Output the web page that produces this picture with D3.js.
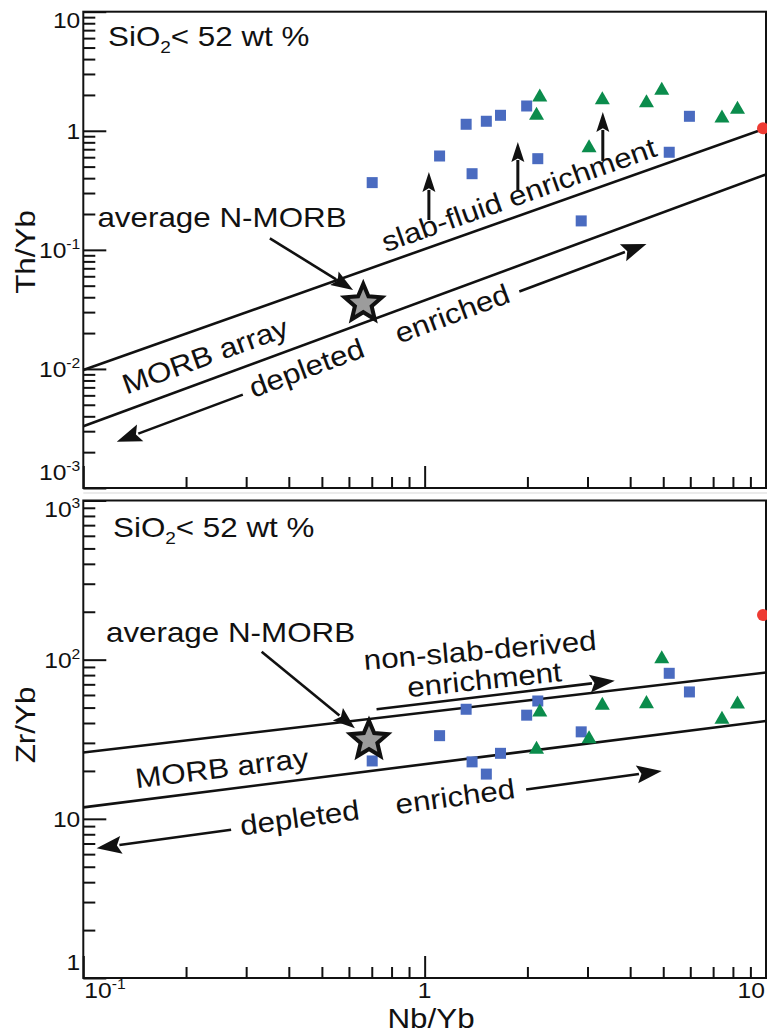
<!DOCTYPE html>
<html>
<head>
<meta charset="utf-8">
<script src="https://cdn.jsdelivr.net/npm/d3@7"></script>
<style>
  body { margin: 0; background: #fff; }
  svg { display: block; }
  text { font-family: "Liberation Sans", Arial, Helvetica, sans-serif; fill: #111; }
</style>
</head>
<body>
<svg id="chart" width="767" height="1033"></svg>
<script>
// ---- data -------------------------------------------------------------
// Axis domains (log scales)
const nbYbDomain = [0.1, 10];
const thYbDomain = [0.001, 10];
const zrYbDomain = [1, 1000];

// Tick labels (decades)
const xTickValues = [0.1, 1, 10];
const thTickValues = [10, 1, 0.1, 0.01, 0.001];
const zrTickValues = [1000, 100, 10, 1];

// Samples plotted as blue squares
const squareNbYb = [0.702, 1.106, 1.377, 1.323, 1.516, 1.668, 1.990, 2.145, 2.875, 5.206, 5.966];
const squareThYb = [0.367, 0.614, 0.436, 1.134, 1.202, 1.349, 1.615, 0.583, 0.175, 0.660, 1.323];
const squareZrYb = [23.1, 33.3, 22.8, 48.8, 19.1, 25.8, 44.8, 55.0, 35.2, 82.1, 62.7];

// Samples plotted as green triangles
const triangleNbYb = [2.174, 2.127, 3.031, 3.315, 4.465, 4.95, 7.43, 8.25];
const triangleThYb = [1.998, 1.403, 0.750, 1.896, 1.789, 2.274, 1.331, 1.575];
const triangleZrYb = [48.3, 28.2, 32.8, 53.2, 54.5, 104.4, 43.5, 54.2];

// Red reference point at the right margin
const oibNbYb = [9.8];
const oibThYb = [1.05];
const oibZrYb = [191];

// Average N-MORB (star)
const nmorbNbYb = [0.661, 0.687];   // [upper panel, lower panel]
const nmorbThYb = [0.0355];
const nmorbZrYb = [31.2];

// MORB array bounding lines: [Nb/Yb, ratio] at both ends
const thMorbUpper = [[0.1, 0.0098], [10, 1.05]];
const thMorbLower = [[0.1, 0.0033], [10, 0.43]];
const zrMorbUpper = [[0.1, 26.1], [10, 83]];
const zrMorbLower = [[0.1, 11.8], [10, 41.2]];

// Annotation anchors in data units
const thPointer = [[0.352, 0.125], [0.617, 0.0461]];
const zrPointer = [[0.333, 112.3], [0.6246, 37.1]];
const thNmorbLabel = [0.110, 0.157];
const zrNmorbLabel = [0.1165, 129.8];
const thArrayLabel = [0.2326, 0.0108];
const zrArrayLabel = [0.2566, 18.15];
const slabLabel = [1.93, 0.2428];
const slabArrowNb = [1.029, 1.875, 3.326];
const slabArrowFrom = [0.178, 0.318, 0.558];
const slabArrowTo = [0.451, 0.805, 1.439];
const nonSlabLabel1 = [1.461, 99.6];
const nonSlabLabel2 = [1.506, 65.2];
const nonSlabArrow = [[0.723, 48.8], [3.606, 73.8]];
const thTrack = [[0.1253, 0.00245], [4.465, 0.112]];
const zrTrack = [[0.1094, 6.54], [4.95, 20.0]];
const trackWords = ["depleted", "enriched"];
const trackWordAt = [0.36, 0.635];
const trackGapAt = [0.238, 0.76];

// ---- layout -----------------------------------------------------------
const W = 767, H = 1033;
const X0 = 83.3, X1 = 766;
const TOP = { top: 11.7, bottom: 488 };
const BOT = { top: 500.5, bottom: 978 };
const TX = 1.12;           // horizontal text proportion
const ANN = 28;            // annotation font size
const TICK = 22;           // tick label font size
const INK = "#111";
const BLUE = "#4a6bc0", GREEN = "#0b8c4c", RED = "#ee3b33";

const svg = d3.select("#chart");
svg.append("rect").attr("width", W).attr("height", H).attr("fill", "#fff");

const x = d3.scaleLog().domain(nbYbDomain).range([X0, X1]);
const yTh = d3.scaleLog().domain(thYbDomain).range([TOP.bottom, TOP.top]);
const yZr = d3.scaleLog().domain(zrYbDomain).range([BOT.bottom, BOT.top]);

// faint separator between the panels
svg.append("line").attr("x1", X0).attr("x2", W).attr("y1", 493).attr("y2", 493)
  .attr("stroke", "#e4e4e4").attr("stroke-width", 1.5);

function minorTicks(domain) {
  const out = [];
  const e0 = Math.floor(Math.log10(domain[0])), e1 = Math.ceil(Math.log10(domain[1]));
  for (let e = e0; e < e1; e++) for (let k = 2; k <= 9; k++) {
    const v = k * Math.pow(10, e);
    if (v > domain[0] && v < domain[1]) out.push(v);
  }
  return out;
}

function addText(g, px, py, str, opts = {}) {
  const t = g.append("text")
    .attr("transform", `translate(${px},${py}) rotate(${opts.rotate || 0}) scale(${TX},1)`)
    .attr("text-anchor", opts.anchor || "start")
    .attr("font-size", opts.size || ANN);
  if (opts.dy) t.attr("dy", opts.dy);
  t.text(str);
  return t;
}

function powerLabel(g, px, py, v, anchor) {
  const e = Math.round(Math.log10(v));
  const t = g.append("text")
    .attr("transform", `translate(${px},${py}) scale(${TX},1)`)
    .attr("text-anchor", anchor).attr("font-size", TICK);
  if (e === 0) t.text("1");
  else if (e === 1) t.text("10");
  else {
    t.append("tspan").text("10");
    t.append("tspan").attr("font-size", 14).attr("dy", -9).text(String(e));
  }
}

function arrow(g, p1, p2, opts = {}) {
  const len = opts.len || 20, hw = opts.hw || 7, sw = opts.sw || 2.6;
  const dx = p2[0] - p1[0], dy = p2[1] - p1[1];
  const L = Math.hypot(dx, dy), ux = dx / L, uy = dy / L;
  const bx = p2[0] - ux * len, by = p2[1] - uy * len;
  g.append("line").attr("x1", p1[0]).attr("y1", p1[1])
    .attr("x2", bx + ux * 2).attr("y2", by + uy * 2)
    .attr("stroke", INK).attr("stroke-width", sw);
  g.append("path")
    .attr("d", `M${p2[0]},${p2[1]}L${bx - uy * hw},${by + ux * hw}L${bx + ux * len * 0.18},${by + uy * len * 0.18}L${bx + uy * hw},${by - ux * hw}Z`)
    .attr("fill", INK);
}

function starPath(R, r) {
  const pts = [];
  for (let i = 0; i < 10; i++) {
    const a = -Math.PI / 2 + i * Math.PI / 5, rad = i % 2 ? r : R;
    pts.push([rad * Math.cos(a), rad * Math.sin(a)]);
  }
  return "M" + pts.map(p => p.join(",")).join("L") + "Z";
}

function trianglePath(w) {
  const h = w * 0.87;
  return `M0,${-h / 2}L${w / 2},${h / 2}L${-w / 2},${h / 2}Z`;
}

const angleOf = (a, b) => Math.atan2(b[1] - a[1], b[0] - a[0]) * 180 / Math.PI;

function drawPanel(y, box, yTicks, showXLabels) {
  const g = svg.append("g");

  // y ticks (inward)
  const yMajor = d3.axisRight(y).tickValues(yTicks).tickSize(23).tickFormat("").tickSizeOuter(0);
  const yMinor = d3.axisRight(y).tickValues(minorTicks(y.domain())).tickSize(12).tickFormat("").tickSizeOuter(0);
  [yMajor, yMinor].forEach(ax => {
    const a = g.append("g").attr("transform", `translate(${X0},0)`).call(ax);
    a.select(".domain").remove();
    a.selectAll("line").attr("stroke", INK).attr("stroke-width", 2);
  });
  // x ticks (inward)
  const xMajor = d3.axisTop(x).tickValues(xTickValues).tickSize(22).tickFormat("").tickSizeOuter(0);
  const xMinor = d3.axisTop(x).tickValues(minorTicks(x.domain())).tickSize(11).tickFormat("").tickSizeOuter(0);
  [xMajor, xMinor].forEach(ax => {
    const a = g.append("g").attr("transform", `translate(0,${box.bottom})`).call(ax);
    a.select(".domain").remove();
    a.selectAll("line").attr("stroke", INK).attr("stroke-width", 2);
  });

  // frame
  g.append("rect").attr("x", X0).attr("y", box.top)
    .attr("width", X1 - X0).attr("height", box.bottom - box.top)
    .attr("fill", "none").attr("stroke", INK).attr("stroke-width", 2);

  // y tick labels, kept inside the frame height at the ends
  yTicks.forEach(v => {
    const cy = Math.max(box.top + 8.5, Math.min(box.bottom - 16, y(v)));
    powerLabel(g, X0 - 3, cy + 8, v, "end");
  });

  if (showXLabels) {
    xTickValues.forEach((v, i) => {
      const anchor = i === 0 ? "start" : (i === xTickValues.length - 1 ? "end" : "middle");
      const px = i === 0 ? X0 + 1 : (i === xTickValues.length - 1 ? X1 - 1 : x(v));
      powerLabel(g, px, box.bottom + 20, v, anchor);
    });
  }
  return g;
}

function line2(g, pts, y) {
  g.append("line")
    .attr("x1", x(pts[0][0])).attr("y1", y(pts[0][1]))
    .attr("x2", x(pts[1][0])).attr("y2", y(pts[1][1]))
    .attr("stroke", INK).attr("stroke-width", 2.6);
}

function panelLabel(g, px, py) {
  const t = g.append("text")
    .attr("transform", `translate(${px},${py}) scale(${TX},1)`)
    .attr("font-size", 28);
  t.append("tspan").text("SiO");
  t.append("tspan").attr("font-size", 17).attr("dy", 7).text("2");
  t.append("tspan").attr("dy", -7).text("< 52 wt %");
}

function track(g, pts, y) {
  const a = [x(pts[0][0]), y(pts[0][1])], b = [x(pts[1][0]), y(pts[1][1])];
  const at = t => [a[0] + (b[0] - a[0]) * t, a[1] + (b[1] - a[1]) * t];
  const ang = angleOf(a, b);
  arrow(g, at(trackGapAt[0]), a, { len: 25, hw: 9 });
  arrow(g, at(trackGapAt[1]), b, { len: 25, hw: 9 });
  trackWords.forEach((w, i) => {
    const p = at(trackWordAt[i]);
    addText(g, p[0], p[1], w, { anchor: "middle", rotate: ang, dy: "0.25em" });
  });
}

function points(g, y, sqY, trY, redY) {
  g.selectAll(null).data(squareNbYb).enter().append("rect")
    .attr("x", (d) => x(d) - 5.5).attr("y", (d, i) => y(sqY[i]) - 5.5)
    .attr("width", 11).attr("height", 11).attr("fill", BLUE);
  g.selectAll(null).data(triangleNbYb).enter().append("path")
    .attr("transform", (d, i) => `translate(${x(d)},${y(trY[i])})`)
    .attr("d", trianglePath(15)).attr("fill", GREEN);
  g.selectAll(null).data(oibNbYb).enter().append("circle")
    .attr("cx", d => x(d)).attr("cy", (d, i) => y(redY[i])).attr("r", 6).attr("fill", RED);
}

function star(g, px, py) {
  g.append("path").attr("transform", `translate(${px},${py})`)
    .attr("d", starPath(19.5, 8.8))
    .attr("fill", "#9c9c9c").attr("stroke", INK).attr("stroke-width", 4)
    .attr("stroke-linejoin", "miter");
}

// ---- upper panel: Th/Yb vs Nb/Yb ---------------------------------------
{
  const g = drawPanel(yTh, TOP, thTickValues, false);
  line2(g, thMorbUpper, yTh);
  line2(g, thMorbLower, yTh);
  const up = thMorbUpper.map(p => [x(p[0]), yTh(p[1])]);
  const lo = thMorbLower.map(p => [x(p[0]), yTh(p[1])]);
  const arrAng = (angleOf(up[0], up[1]) + angleOf(lo[0], lo[1])) / 2;

  points(g, yTh, squareThYb, triangleThYb, oibThYb);

  // slab-fluid arrows
  slabArrowNb.forEach((nb, i) => {
    arrow(g, [x(nb), yTh(slabArrowFrom[i])], [x(nb), yTh(slabArrowTo[i])], { len: 20, hw: 6.5, sw: 3 });
  });
  addText(g, x(slabLabel[0]), yTh(slabLabel[1]), "slab-fluid enrichment",
    { anchor: "middle", rotate: angleOf(up[0], up[1]) });
  addText(g, x(thArrayLabel[0]), yTh(thArrayLabel[1]), "MORB array",
    { anchor: "middle", rotate: arrAng });

  addText(g, x(thNmorbLabel[0]), yTh(thNmorbLabel[1]), "average N-MORB");
  arrow(g, [x(thPointer[0][0]), yTh(thPointer[0][1])], [x(thPointer[1][0]), yTh(thPointer[1][1])], { len: 22, hw: 8 });
  star(g, x(nmorbNbYb[0]), yTh(nmorbThYb[0]));
  track(g, thTrack, yTh);

  panelLabel(g, 108, 45.7);
  g.append("text")
    .attr("transform", `translate(35,252) rotate(-90) scale(${TX},1)`)
    .attr("text-anchor", "middle").attr("font-size", 28).text("Th/Yb");
}

// ---- lower panel: Zr/Yb vs Nb/Yb ---------------------------------------
{
  const g = drawPanel(yZr, BOT, zrTickValues, true);
  line2(g, zrMorbUpper, yZr);
  line2(g, zrMorbLower, yZr);
  const up = zrMorbUpper.map(p => [x(p[0]), yZr(p[1])]);
  const lo = zrMorbLower.map(p => [x(p[0]), yZr(p[1])]);
  const arrAng = (angleOf(up[0], up[1]) + angleOf(lo[0], lo[1])) / 2;

  points(g, yZr, squareZrYb, triangleZrYb, oibZrYb);

  const nsA = [x(nonSlabArrow[0][0]), yZr(nonSlabArrow[0][1])];
  const nsB = [x(nonSlabArrow[1][0]), yZr(nonSlabArrow[1][1])];
  arrow(g, nsA, nsB, { len: 25, hw: 9 });
  addText(g, x(nonSlabLabel1[0]), yZr(nonSlabLabel1[1]), "non-slab-derived", { anchor: "middle", rotate: -5 });
  addText(g, x(nonSlabLabel2[0]), yZr(nonSlabLabel2[1]), "enrichment", { anchor: "middle", rotate: -6 });

  addText(g, x(zrArrayLabel[0]), yZr(zrArrayLabel[1]), "MORB array",
    { anchor: "middle", rotate: arrAng });
  addText(g, x(zrNmorbLabel[0]), yZr(zrNmorbLabel[1]), "average N-MORB");
  arrow(g, [x(zrPointer[0][0]), yZr(zrPointer[0][1])], [x(zrPointer[1][0]), yZr(zrPointer[1][1])], { len: 22, hw: 8 });
  star(g, x(nmorbNbYb[1]), yZr(nmorbZrYb[0]));
  track(g, zrTrack, yZr);

  panelLabel(g, 113, 536.7);
  g.append("text")
    .attr("transform", `translate(35,725) rotate(-90) scale(${TX},1)`)
    .attr("text-anchor", "middle").attr("font-size", 28).text("Zr/Yb");
  g.append("text")
    .attr("transform", `translate(431,1028) scale(${TX},1)`)
    .attr("text-anchor", "middle").attr("font-size", 28).text("Nb/Yb");
}
</script>
</body>
</html>
